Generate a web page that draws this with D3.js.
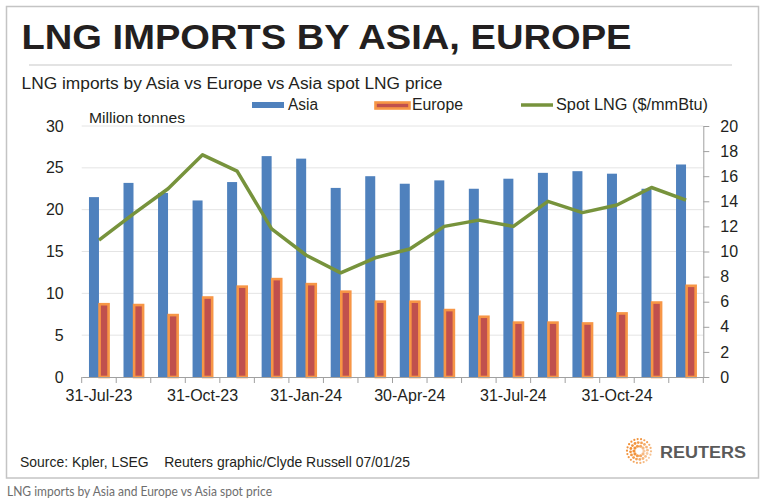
<!DOCTYPE html>
<html>
<head>
<meta charset="utf-8">
<script src="https://cdn.jsdelivr.net/npm/d3@7"></script>
<style>
  body { margin: 0; background: #fff; }
  text { font-family: "Liberation Sans", Arial, sans-serif; }
  .narrow { font-family: "Liberation Sans Narrow", "Arial Narrow", "Liberation Sans", sans-serif; }
  .caption { font-family: Lato, "Open Sans", sans-serif; }
</style>
</head>
<body>
<div id="chart-area"></div>
<script>
// Data
const months = ["Jul-23","Aug-23","Sep-23","Oct-23","Nov-23","Dec-23","Jan-24","Feb-24","Mar-24",
                "Apr-24","May-24","Jun-24","Jul-24","Aug-24","Sep-24","Oct-24","Nov-24","Dec-24"];
const monthLabels = ["31-Jul-23","31-Oct-23","31-Jan-24","30-Apr-24","31-Jul-24","31-Oct-24"];
const labelMonths = ["Jul-23","Oct-23","Jan-24","Apr-24","Jul-24","Oct-24"];
const asia = [21.5, 23.2, 22.0, 21.1, 23.3, 26.4, 26.1, 22.6, 24.0,
              23.1, 23.5, 22.5, 23.7, 24.4, 24.6, 24.3, 22.5, 25.4];
const europe = [8.7, 8.6, 7.4, 9.5, 10.8, 11.7, 11.1, 10.2, 9.0,
                9.0, 8.0, 7.2, 6.5, 6.5, 6.4, 7.6, 8.9, 10.9];
const spot = [10.9, 13.0, 15.0, 17.7, 16.4, 11.8, 9.7, 8.3, 9.5,
              10.2, 12.0, 12.5, 12.0, 14.0, 13.1, 13.7, 15.1, 14.1];
const leftTicks = [0, 5, 10, 15, 20, 25, 30];
const rightTicks = [0, 2, 4, 6, 8, 10, 12, 14, 16, 18, 20];

const W = 768, H = 501;
const plot = { left: 81.7, right: 703.3, top: 126, bottom: 377 };

const svg = d3.select("#chart-area")
  .append("svg")
    .attr("width", W)
    .attr("height", H);

// frame
svg.append("rect")
  .attr("x", 6.5).attr("y", 6.5)
  .attr("width", 752).attr("height", 471.5)
  .attr("fill", "none")
  .attr("stroke", "#c4c4c4")
  .attr("stroke-width", 1.5);

// title
svg.append("text")
  .attr("class", "narrow")
  .attr("x", 21.5).attr("y", 48.5)
  .attr("font-size", "35px")
  .attr("font-weight", "bold")
  .attr("fill", "#231f20")
  .attr("textLength", 610)
  .attr("lengthAdjust", "spacingAndGlyphs")
  .text("LNG IMPORTS BY ASIA, EUROPE");

svg.append("line")
  .attr("x1", 29).attr("x2", 732)
  .attr("y1", 65).attr("y2", 65)
  .attr("stroke", "#c8c8c8")
  .attr("stroke-width", 1.2);

svg.append("text")
  .attr("class", "narrow")
  .attr("x", 21.5).attr("y", 88.5)
  .attr("font-size", "16px")
  .attr("fill", "#231f20")
  .attr("textLength", 421)
  .attr("lengthAdjust", "spacingAndGlyphs")
  .text("LNG imports by Asia vs Europe vs Asia spot LNG price");

// scales
const x = d3.scaleBand().domain(months).range([plot.left, plot.right]).padding(0);
const yL = d3.scaleLinear().domain([0, 30]).range([plot.bottom, plot.top]);
const yR = d3.scaleLinear().domain([0, 20]).range([plot.bottom, plot.top]);
const bw = x.bandwidth();
const cx = d => x(d) + bw / 2;

// gridlines
svg.append("g")
  .selectAll("line")
  .data(leftTicks.filter(d => d > 0))
  .join("line")
    .attr("x1", plot.left).attr("x2", plot.right)
    .attr("y1", d => yL(d)).attr("y2", d => yL(d))
    .attr("stroke", "#e4e4e4")
    .attr("stroke-width", 1);

// left axis (labels only)
const leftAxis = svg.append("g")
  .attr("transform", "translate(" + plot.left + ",0)")
  .call(d3.axisLeft(yL).tickValues(leftTicks).tickSize(0).tickPadding(18));
leftAxis.select(".domain").remove();
leftAxis.selectAll("text").attr("font-size", "16px").attr("fill", "#231f20");

// right axis
const rightAxis = svg.append("g")
  .attr("transform", "translate(" + plot.right + ",0)")
  .call(d3.axisRight(yR).tickValues(rightTicks).tickSize(6).tickSizeOuter(0).tickPadding(11));
rightAxis.select(".domain").attr("stroke", "#a0a0a0");
rightAxis.selectAll(".tick line").attr("stroke", "#a0a0a0");
rightAxis.selectAll("text").attr("font-size", "16px").attr("fill", "#231f20");

// Asia bars
svg.append("g")
  .selectAll("rect")
  .data(months)
  .join("rect")
    .attr("x", d => cx(d) - 10)
    .attr("y", (d, i) => yL(asia[i]))
    .attr("width", 10)
    .attr("height", (d, i) => yL(0) - yL(asia[i]))
    .attr("fill", "#4f81bd");

// Europe bars
svg.append("g")
  .selectAll("rect")
  .data(months)
  .join("rect")
    .attr("x", d => cx(d) + 0.6)
    .attr("y", (d, i) => yL(europe[i]))
    .attr("width", 9)
    .attr("height", (d, i) => yL(0) - yL(europe[i]))
    .attr("fill", "#c0504d")
    .attr("stroke", "#f79646")
    .attr("stroke-width", 2.6);

// x axis
const xAxis = svg.append("g")
  .attr("transform", "translate(0," + plot.bottom + ")")
  .call(d3.axisBottom(x).tickValues(labelMonths).tickSize(0).tickPadding(13)
    .tickFormat(d => monthLabels[labelMonths.indexOf(d)]));
xAxis.select(".domain").attr("stroke", "#a0a0a0").attr("stroke-width", 1.2);
xAxis.selectAll("text").attr("font-size", "16px").attr("fill", "#231f20");
xAxis.selectAll(".boundary")
  .data(months.concat(["end"]))
  .join("line")
    .attr("class", "boundary")
    .attr("x1", d => d === "end" ? plot.right : x(d))
    .attr("x2", d => d === "end" ? plot.right : x(d))
    .attr("y1", 0).attr("y2", 6)
    .attr("stroke", "#a0a0a0");

// spot LNG line
const line = d3.line()
  .x((d, i) => cx(months[i]))
  .y(d => yR(d));
svg.append("path")
  .datum(spot)
  .attr("d", line)
  .attr("fill", "none")
  .attr("stroke", "#77933c")
  .attr("stroke-width", 3.5)
  .attr("stroke-linejoin", "round");

// y unit label
svg.append("text")
  .attr("class", "narrow")
  .attr("x", 89).attr("y", 122.5)
  .attr("font-size", "15.5px")
  .attr("fill", "#231f20")
  .attr("textLength", 96)
  .attr("lengthAdjust", "spacingAndGlyphs")
  .text("Million tonnes");

// legend
const legend = svg.append("g").attr("class", "legend");
legend.append("rect")
  .attr("x", 252).attr("y", 102).attr("width", 32).attr("height", 6)
  .attr("fill", "#4f81bd");
legend.append("text").attr("class", "narrow")
  .attr("x", 288).attr("y", 110).attr("font-size", "16px").attr("fill", "#231f20")
  .attr("textLength", 30).attr("lengthAdjust", "spacingAndGlyphs")
  .text("Asia");
legend.append("rect")
  .attr("x", 375.5).attr("y", 102.5).attr("width", 34).attr("height", 6)
  .attr("fill", "#c0504d").attr("stroke", "#f79646").attr("stroke-width", 2.6);
legend.append("text").attr("class", "narrow")
  .attr("x", 412).attr("y", 110).attr("font-size", "16px").attr("fill", "#231f20")
  .attr("textLength", 51).attr("lengthAdjust", "spacingAndGlyphs")
  .text("Europe");
legend.append("line")
  .attr("x1", 521).attr("x2", 553).attr("y1", 105).attr("y2", 105)
  .attr("stroke", "#77933c").attr("stroke-width", 3.5);
legend.append("text").attr("class", "narrow")
  .attr("x", 556).attr("y", 110).attr("font-size", "16px").attr("fill", "#231f20")
  .attr("textLength", 152).attr("lengthAdjust", "spacingAndGlyphs")
  .text("Spot LNG ($/mmBtu)");

// footer
svg.append("text")
  .attr("class", "narrow")
  .attr("x", 20).attr("y", 467)
  .attr("font-size", "15px")
  .attr("fill", "#231f20")
  .style("white-space", "pre")
  .attr("textLength", 390)
  .attr("lengthAdjust", "spacingAndGlyphs")
  .text("Source: Kpler, LSEG    Reuters graphic/Clyde Russell 07/01/25");

// Reuters logo: ring of dots + wordmark
const logo = svg.append("g").attr("transform", "translate(639,451)");
[5, 8.5, 12].forEach((r, k) => {
  const n = [10, 16, 22][k];
  logo.append("g").selectAll("circle")
    .data(d3.range(n))
    .join("circle")
      .attr("cx", i => r * Math.cos(i / n * 2 * Math.PI + k * 0.3))
      .attr("cy", i => r * Math.sin(i / n * 2 * Math.PI + k * 0.3))
      .attr("r", [1.6, 1.4, 1.1][k])
      .attr("fill", "#f08a2c")
      .attr("opacity", i => 0.45 + 0.5 * Math.abs(Math.sin(i / n * Math.PI)));
});
svg.append("text")
  .attr("x", 660).attr("y", 457.5)
  .attr("font-size", "16px")
  .attr("font-weight", "bold")
  .attr("fill", "#5a5a5a")
  .attr("textLength", 86)
  .attr("lengthAdjust", "spacingAndGlyphs")
  .text("REUTERS");

// caption below frame
svg.append("text")
  .attr("class", "caption")
  .attr("x", 7).attr("y", 496)
  .attr("font-size", "12.5px")
  .attr("fill", "#6e6e6e")
  .attr("textLength", 265)
  .attr("lengthAdjust", "spacingAndGlyphs")
  .text("LNG imports by Asia and Europe vs Asia spot price");
</script>
</body>
</html>
